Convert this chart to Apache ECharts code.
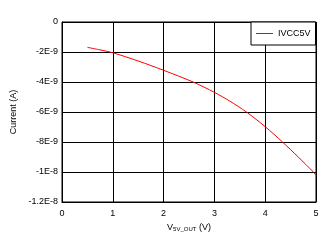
<!DOCTYPE html>
<html><head><meta charset="utf-8">
<script src="https://cdn.jsdelivr.net/npm/echarts@6/dist/echarts.min.js"></script>
<style>html,body{margin:0;padding:0;background:#fff}#c{width:333px;height:243px}</style>
</head><body><div id="c"></div>
<script>
// V5V_OUT (V)
const xValues = [0.5, 0.75, 1.0, 1.5, 2.0, 2.58, 3.0, 3.3, 3.63, 4.0, 4.34, 4.65, 4.947, 5.0];
// Current in units of 1E-9 A
const currentNA = [-1.69, -1.86, -2.05, -2.6, -3.22, -4.0, -4.69, -5.27, -6.0, -6.98, -8.0, -9.0, -10.0, -10.22];
const xTickLabels = ['0', '1', '2', '3', '4', '5'];
const yTickLabels = ['0', '-2E-9', '-4E-9', '-6E-9', '-8E-9', '-1E-8', '-1.2E-8'];
const seriesName = 'IVCC5V';

const font = 'Liberation Sans, Arial, sans-serif';
const chart = echarts.init(document.getElementById('c'), null, {renderer: 'canvas'});
chart.setOption({
  animation: false,
  backgroundColor: '#fff',
  textStyle: {fontFamily: font},
  grid: {left: 62, top: 22, right: 17, bottom: 41, show: true, borderColor: '#000', borderWidth: 1, backgroundColor: 'transparent'},
  legend: {
    data: [{name: seriesName, icon: 'rect'}], left: 251, top: 22, orient: 'vertical',
    backgroundColor: '#fff', borderColor: '#000', borderWidth: 1, borderRadius: 0,
    padding: [7, 5, 7, 5], itemWidth: 17, itemHeight: 1, itemGap: 4,
    itemStyle: {color: '#ff0000'},
    textStyle: {fontSize: 9, color: '#000', fontFamily: font, padding: [0, 0, 0, 0]}
  },
  xAxis: {
    type: 'value', min: 0, max: 5, interval: 1,
    axisLine: {show: true, onZero: false, lineStyle: {color: '#000', width: 1}},
    axisTick: {show: false},
    splitLine: {show: true, lineStyle: {color: '#000', width: 1}},
    axisLabel: {fontSize: 9, color: '#000', margin: 7, fontFamily: font,
      formatter: v => xTickLabels[Math.round(v)]},
    name: '{m|V}{s|5V_OUT}{m| (V)}', nameLocation: 'middle', nameGap: 19,
    nameTextStyle: {rich: {m: {fontSize: 9, color: '#000', fontFamily: font}, s: {fontSize: 6, color: '#000', fontFamily: font, verticalAlign: 'bottom', padding: [4, 0, 0, 0]}}}
  },
  yAxis: {
    type: 'value', min: -12, max: 0, interval: 2,
    axisLine: {show: true, lineStyle: {color: '#000', width: 1}},
    axisTick: {show: false},
    splitLine: {show: true, lineStyle: {color: '#000', width: 1}},
    axisLabel: {fontSize: 9, color: '#000', margin: 4, fontFamily: font,
      formatter: v => yTickLabels[Math.round(-v / 2)]},
    name: 'Current (A)', nameLocation: 'middle', nameGap: 42,
    nameTextStyle: {fontSize: 9, color: '#000', fontFamily: font}
  },
  series: [{
    name: seriesName, type: 'line', symbol: 'none', smooth: 0.3,
    data: xValues.map((x, i) => [x, currentNA[i]]),
    lineStyle: {color: '#ff0000', width: 1}, itemStyle: {color: '#ff0000'}
  }]
});
</script></body></html>
